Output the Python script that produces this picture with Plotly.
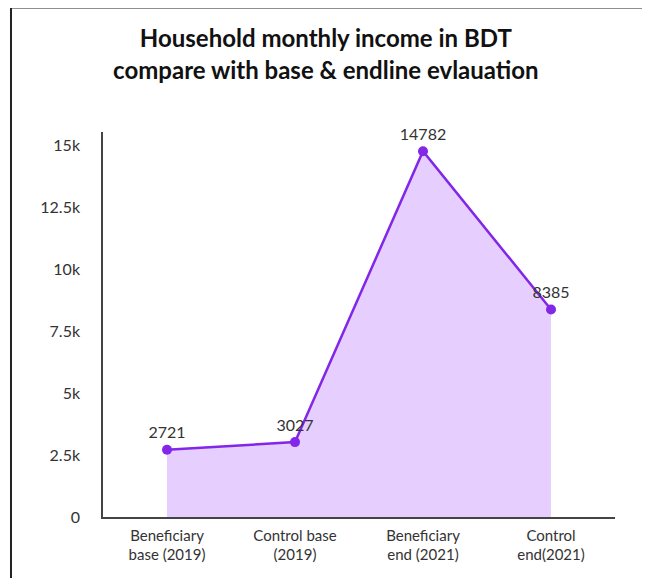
import plotly.graph_objects as go

categories = ["Beneficiary<br>base (2019)", "Control base<br>(2019)", "Beneficiary<br>end (2021)", "Control<br>end(2021)"]
income = [2721, 3027, 14782, 8385]
ytick_vals = [0, 2500, 5000, 7500, 10000, 12500, 15000]
ytick_text = ["0", "2.5k", "5k", "7.5k", "10k", "12.5k", "15k"]
title_lines = ["Household monthly income in BDT", "compare with base & endline evlauation"]

fig = go.Figure()
fig.add_trace(go.Scatter(
    x=categories, y=income, mode="lines+markers+text",
    text=[str(v) for v in income], textposition="top center",
    textfont=dict(size=16, color="#333333", family="Lato"),
    line=dict(color="#8226e8", width=2.5),
    marker=dict(size=10, color="#8226e8"),
    fill="tozeroy", fillcolor="rgb(230,206,255)",
    cliponaxis=False,
))

axis_color = "#444444"
fig.update_layout(
    width=650, height=578,
    margin=dict(l=95, r=43, t=124, b=69),
    paper_bgcolor="white", plot_bgcolor="white",
    font=dict(family="Lato", size=16, color="#333333"),
    showlegend=False,
    title=dict(
        text="<b>%s<br>%s</b>" % (title_lines[0], title_lines[1]),
        x=0.489, xanchor="center", y=0.932, yanchor="middle",
        font=dict(family="Lato", size=24, color="#111111"),
    ),
    xaxis=dict(
        range=[-0.5, 3.5], showgrid=False, zeroline=False,
        showline=True, linecolor=axis_color, linewidth=1.5,
        ticks="", ticklabelstandoff=4,
        tickfont=dict(size=15, color="#333333"),
    ),
    yaxis=dict(
        range=[0, 15560], showgrid=False, zeroline=False,
        showline=True, linecolor=axis_color, linewidth=1.5,
        tickvals=ytick_vals, ticktext=ytick_text,
        ticks="", ticklabelstandoff=18,
        tickfont=dict(size=16, color="#333333"),
    ),
    shapes=[
        dict(type="line", xref="paper", yref="paper",
             x0=-0.1797, x1=-0.1797, y0=-0.25, y1=1.3234,
             line=dict(color="#222222", width=2)),
        dict(type="line", xref="paper", yref="paper",
             x0=-0.1797, x1=1.2, y0=1.3234, y1=1.3234,
             line=dict(color="#222222", width=2)),
    ],
)

fig.write_html("out.html")
